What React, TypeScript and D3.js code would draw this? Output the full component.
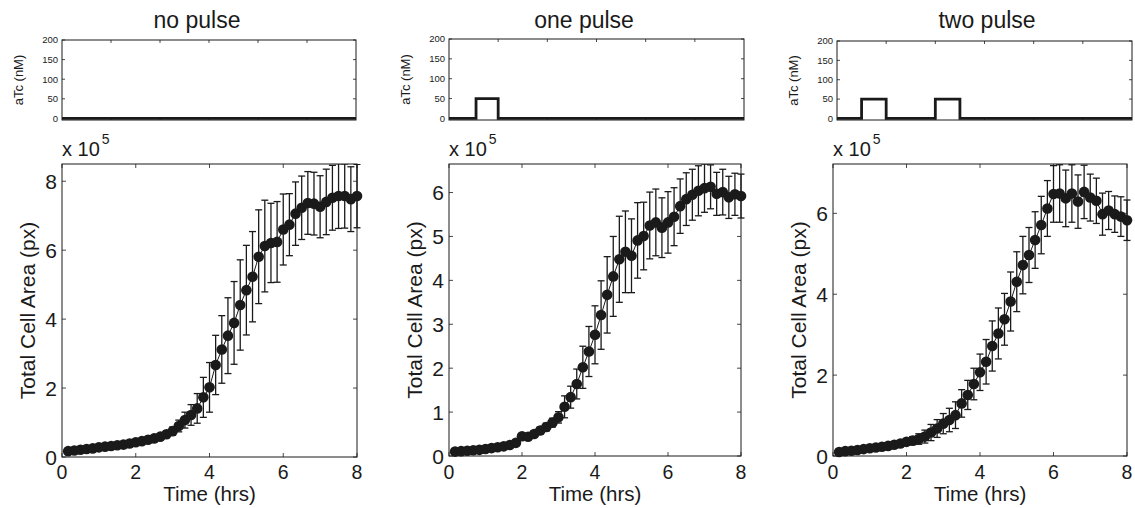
import React from 'react';
import * as d3 from 'd3';

// ---------- DATA ----------
const timeMinutes = [10, 20, 30, 40, 50, 60, 70, 80, 90, 100, 110, 120, 130, 140, 150, 160, 170, 180, 190, 200, 210, 220, 230, 240, 250, 260, 270, 280, 290, 300, 310, 320, 330, 340, 350, 360, 370, 380, 390, 400, 410, 420, 430, 440, 450, 460, 470, 480];

const titles = ['no pulse', 'one pulse', 'two pulse'];

// Total cell area, units of 1e5 px
const areaNoPulse = [0.17, 0.19, 0.21, 0.23, 0.25, 0.28, 0.30, 0.32, 0.34, 0.36, 0.39, 0.43, 0.46, 0.50, 0.54, 0.59, 0.66, 0.75, 0.90, 1.07, 1.22, 1.41, 1.73, 2.02, 2.67, 3.12, 3.52, 3.89, 4.41, 4.84, 5.23, 5.81, 6.12, 6.21, 6.24, 6.60, 6.74, 7.06, 7.23, 7.37, 7.35, 7.26, 7.40, 7.52, 7.57, 7.57, 7.48, 7.57];
const errNoPulse = [0.02, 0.02, 0.02, 0.02, 0.03, 0.03, 0.03, 0.03, 0.03, 0.04, 0.04, 0.05, 0.05, 0.06, 0.07, 0.08, 0.10, 0.12, 0.17, 0.23, 0.30, 0.43, 0.58, 0.72, 0.86, 0.98, 1.10, 1.20, 1.31, 1.30, 1.31, 1.36, 1.33, 1.15, 1.17, 1.03, 0.90, 0.92, 0.92, 0.91, 0.91, 0.90, 0.95, 0.94, 0.94, 0.93, 0.94, 0.92];

const areaOnePulse = [0.10, 0.11, 0.12, 0.13, 0.14, 0.16, 0.18, 0.20, 0.22, 0.25, 0.30, 0.45, 0.44, 0.50, 0.58, 0.66, 0.76, 0.88, 1.12, 1.34, 1.64, 2.02, 2.38, 2.76, 3.21, 3.67, 4.09, 4.48, 4.65, 4.56, 4.91, 5.01, 5.25, 5.32, 5.20, 5.32, 5.45, 5.69, 5.85, 5.95, 6.04, 6.10, 6.13, 5.97, 6.01, 5.89, 5.96, 5.92];
const errOnePulse = [0.02, 0.02, 0.02, 0.02, 0.02, 0.03, 0.03, 0.03, 0.03, 0.04, 0.05, 0.06, 0.06, 0.07, 0.08, 0.09, 0.10, 0.13, 0.25, 0.25, 0.34, 0.48, 0.57, 0.66, 0.78, 0.87, 0.91, 0.98, 0.93, 0.84, 0.86, 0.77, 0.76, 0.76, 0.68, 0.70, 0.66, 0.62, 0.60, 0.58, 0.57, 0.55, 0.50, 0.49, 0.52, 0.48, 0.48, 0.50];

const areaTwoPulse = [0.10, 0.12, 0.13, 0.15, 0.17, 0.19, 0.21, 0.23, 0.25, 0.28, 0.31, 0.35, 0.38, 0.42, 0.48, 0.58, 0.68, 0.80, 0.89, 1.01, 1.30, 1.51, 1.78, 2.07, 2.33, 2.72, 3.03, 3.38, 3.82, 4.31, 4.72, 4.97, 5.34, 5.71, 6.12, 6.48, 6.49, 6.37, 6.49, 6.29, 6.53, 6.39, 6.31, 5.98, 6.07, 5.98, 5.92, 5.83];
const errTwoPulse = [0.02, 0.02, 0.03, 0.03, 0.03, 0.04, 0.04, 0.05, 0.05, 0.06, 0.07, 0.08, 0.10, 0.13, 0.16, 0.20, 0.22, 0.25, 0.29, 0.33, 0.34, 0.36, 0.39, 0.45, 0.55, 0.62, 0.63, 0.64, 0.73, 0.74, 0.71, 0.68, 0.70, 0.71, 0.69, 0.70, 0.71, 0.70, 0.71, 0.66, 0.66, 0.58, 0.56, 0.52, 0.47, 0.45, 0.49, 0.50];

// aTc pulses: [start, end] on the induction time axis, level in nM
const pulsesNone: [number, number][] = [];
const pulsesOne: [number, number][] = [[1.1, 2.0]];
const pulsesTwo: [number, number][] = [[1.0, 2.0], [4.0, 5.0]];
const pulseLevel = 50;
const atcDomain = [0, 12];
const atcYTicks = [0, 50, 100, 150, 200];
const atcXTicks = [2, 4, 6, 8, 10];

const timeTicks = [0, 2, 4, 6, 8];
const areaTicksNo = [0, 2, 4, 6, 8];
const areaTicksOne = [0, 1, 2, 3, 4, 5, 6];
const areaTicksTwo = [0, 2, 4, 6];
const areaMaxes = [8.5, 6.65, 7.22];

const areas = [areaNoPulse, areaOnePulse, areaTwoPulse];
const errs = [errNoPulse, errOnePulse, errTwoPulse];
const pulses = [pulsesNone, pulsesOne, pulsesTwo];
const areaTicks = [areaTicksNo, areaTicksOne, areaTicksTwo];

// ---------- LAYOUT ----------
const LAYOUT = [
  { main: { l: 62, r: 357, t: 164, b: 457 }, top: { l: 62, r: 356, t: 40, b: 120 }, titleX: 197 },
  { main: { l: 449, r: 741, t: 164, b: 456 }, top: { l: 449, r: 744, t: 39, b: 120 }, titleX: 584 },
  { main: { l: 833, r: 1127, t: 164, b: 456 }, top: { l: 837, r: 1132, t: 41, b: 120 }, titleX: 987 },
];

const FONT = '"Liberation Sans", Arial, Helvetica, sans-serif';
const INK = '#1a1a1a';

function TopPanel({ idx }: { idx: number }) {
  const L = LAYOUT[idx].top;
  const x = d3.scaleLinear().domain(atcDomain).range([L.l, L.r]);
  const y = d3.scaleLinear().domain([-4, 200]).range([L.b, L.t]);
  const pts: [number, number][] = [[atcDomain[0], 0]];
  pulses[idx].forEach(([s, e]) => {
    pts.push([s, 0], [s, pulseLevel], [e, pulseLevel], [e, 0]);
  });
  pts.push([atcDomain[1], 0]);
  const line = d3.line<[number, number]>().x((d) => x(d[0])).y((d) => y(d[1]));
  const tk = 3;
  return (
    <g>
      <rect x={L.l} y={L.t} width={L.r - L.l} height={L.b - L.t} fill="white" stroke={INK} strokeWidth={1} />
      {atcXTicks.map((t) => (
        <g key={'x' + t}>
          <line x1={x(t)} x2={x(t)} y1={L.b} y2={L.b - tk} stroke={INK} strokeWidth={0.8} />
          <line x1={x(t)} x2={x(t)} y1={L.t} y2={L.t + tk} stroke={INK} strokeWidth={0.8} />
        </g>
      ))}
      {atcYTicks.map((t) => (
        <g key={'y' + t}>
          <line x1={L.l} x2={L.l + tk} y1={y(t)} y2={y(t)} stroke={INK} strokeWidth={0.8} />
          <line x1={L.r} x2={L.r - tk} y1={y(t)} y2={y(t)} stroke={INK} strokeWidth={0.8} />
          <text x={L.l - 4} y={y(t)} dy="0.35em" textAnchor="end" fontSize={9.5} fontFamily={FONT} fill={INK}>
            {t}
          </text>
        </g>
      ))}
      <path d={line(pts) || ''} fill="none" stroke={INK} strokeWidth={2.8} strokeLinejoin="miter" />
      <text
        transform={`translate(${L.l - 39},${(L.t + L.b) / 2}) rotate(-90)`}
        textAnchor="middle"
        fontSize={13}
        fontFamily={FONT}
        fill={INK}
      >
        aTc (nM)
      </text>
      <text x={LAYOUT[idx].titleX} y={28} textAnchor="middle" fontSize={23} fontFamily={FONT} fill={INK}>
        {titles[idx]}
      </text>
    </g>
  );
}

function MainPanel({ idx }: { idx: number }) {
  const L = LAYOUT[idx].main;
  const x = d3.scaleLinear().domain([0, 8]).range([L.l, L.r]);
  const y = d3.scaleLinear().domain([0, areaMaxes[idx]]).range([L.b, L.t]);
  const vals = areas[idx];
  const es = errs[idx];
  const data = timeMinutes.map((m, i) => ({ t: m / 60, v: vals[i], e: es[i] }));
  const line = d3.line<{ t: number; v: number }>().x((d) => x(d.t)).y((d) => y(d.v));
  const tk = 4;
  const cap = 3.5;
  const clipId = `clip-main-${idx}`;
  return (
    <g>
      <defs>
        <clipPath id={clipId}>
          <rect x={L.l - 10} y={L.t} width={L.r - L.l + 20} height={L.b - L.t} />
        </clipPath>
      </defs>
      <rect x={L.l} y={L.t} width={L.r - L.l} height={L.b - L.t} fill="white" stroke={INK} strokeWidth={1} />
      {timeTicks.map((t) => (
        <g key={'x' + t}>
          <line x1={x(t)} x2={x(t)} y1={L.b} y2={L.b - tk} stroke={INK} strokeWidth={0.8} />
          <line x1={x(t)} x2={x(t)} y1={L.t} y2={L.t + tk} stroke={INK} strokeWidth={0.8} />
          <text x={x(t)} y={479} textAnchor="middle" fontSize={19.5} fontFamily={FONT} fill={INK}>
            {t}
          </text>
        </g>
      ))}
      {areaTicks[idx].map((t) => (
        <g key={'y' + t}>
          <line x1={L.l} x2={L.l + tk} y1={y(t)} y2={y(t)} stroke={INK} strokeWidth={0.8} />
          <line x1={L.r} x2={L.r - tk} y1={y(t)} y2={y(t)} stroke={INK} strokeWidth={0.8} />
          <text x={L.l - 5} y={y(t)} dy="0.36em" textAnchor="end" fontSize={21} fontFamily={FONT} fill={INK}>
            {t}
          </text>
        </g>
      ))}
      <g clipPath={`url(#${clipId})`} stroke={INK} strokeWidth={1.3}>
        {data.map((d, i) => (
          <g key={i}>
            <line x1={x(d.t)} x2={x(d.t)} y1={y(d.v - d.e)} y2={y(d.v + d.e)} />
            <line x1={x(d.t) - cap} x2={x(d.t) + cap} y1={y(d.v - d.e)} y2={y(d.v - d.e)} />
            <line x1={x(d.t) - cap} x2={x(d.t) + cap} y1={y(d.v + d.e)} y2={y(d.v + d.e)} />
          </g>
        ))}
      </g>
      <path d={line(data) || ''} fill="none" stroke={INK} strokeWidth={1} />
      {data.map((d, i) => (
        <circle key={'c' + i} cx={x(d.t)} cy={y(d.v)} r={5.3} fill={INK} />
      ))}
      <text x={(L.l + L.r) / 2} y={501} textAnchor="middle" fontSize={20.5} fontFamily={FONT} fill={INK}>
        Time (hrs)
      </text>
      <text
        transform={`translate(${L.l - 27},${(L.t + L.b) / 2}) rotate(-90)`}
        textAnchor="middle"
        fontSize={21}
        fontFamily={FONT}
        fill={INK}
      >
        Total Cell Area (px)
      </text>
      <text x={L.l} y={156} fontSize={20} fontFamily={FONT} fill={INK}>
        x 10
        <tspan dx={2} dy={-12} fontSize={14}>
          5
        </tspan>
      </text>
    </g>
  );
}

export default function App() {
  return (
    <svg
      width={1135}
      height={508}
      viewBox="0 0 1135 508"
      style={{ position: 'absolute', left: 0, top: 0, display: 'block', background: 'white' }}
    >
      <rect x={0} y={0} width={1135} height={508} fill="white" />
      {[0, 1, 2].map((i) => (
        <g key={i}>
          <TopPanel idx={i} />
          <MainPanel idx={i} />
        </g>
      ))}
    </svg>
  );
}
